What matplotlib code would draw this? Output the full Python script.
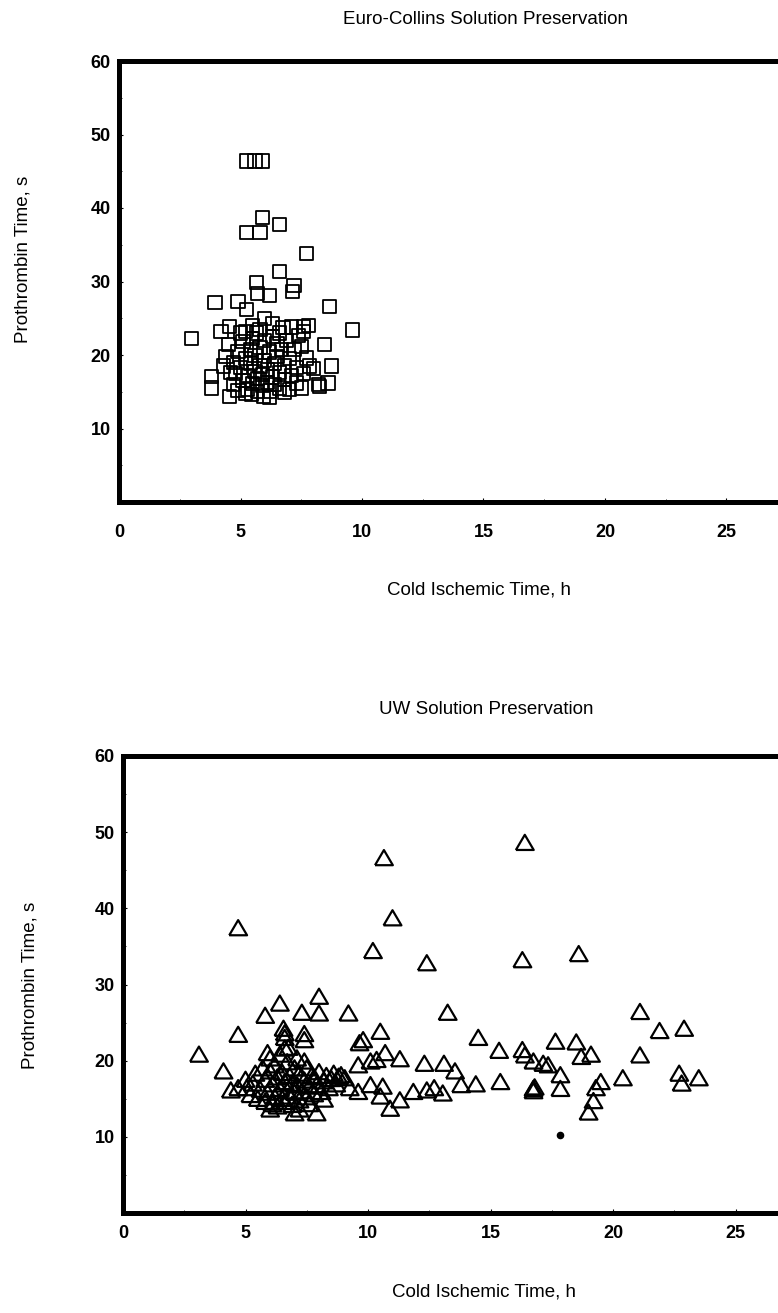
import matplotlib.pyplot as plt
from matplotlib.ticker import MultipleLocator

plt.rcParams['font.family'] = ['Liberation Sans', 'DejaVu Sans']

# Euro-Collins solution: cold ischemic time (h) vs prothrombin time (s)
ec_time = [3.0, 3.8, 3.8, 3.95, 4.2, 4.3, 4.4, 4.5, 4.55, 4.55, 4.9, 5.2, 5.25, 5.25,
           5.25, 5.6, 5.9, 5.8, 5.9, 6.6, 7.7, 6.6, 5.65, 5.7, 6.2, 7.2, 7.15, 8.65,
           9.6, 5.65, 6.0, 6.75, 7.6, 7.6, 7.8, 8.45, 7.5, 8.75, 7.85, 8.0, 8.6, 8.2,
           8.25, 7.5, 6.2, 5.45,
           4.7, 4.8, 4.7, 4.9, 4.9, 5.0, 5.1, 5.1, 5.2, 5.3, 5.3, 5.4, 5.4, 5.5, 5.5,
           5.6, 5.6, 5.7, 5.7, 5.8, 5.8, 5.9, 5.9, 6.0, 6.0, 6.1, 6.1, 6.2, 6.2, 6.3,
           6.3, 6.4, 6.4, 6.5, 6.5, 6.6, 6.6, 6.7, 6.8, 6.8, 6.9, 7.0, 7.0, 7.1, 7.2,
           7.3, 7.3, 7.4, 5.0, 5.8, 6.6, 5.2, 6.8, 7.6, 7.7, 4.6, 5.5, 6.3, 7.1, 5.95]
ec_pt = [22.2, 17.1, 15.5, 27.1, 23.2, 18.5, 19.8, 21.4, 14.4, 23.9, 27.3, 23.2, 26.2, 36.7,
         46.4, 46.4, 46.4, 36.7, 38.7, 37.7, 33.8, 31.4, 29.9, 28.4, 28.1, 29.5, 28.6, 26.6,
         23.4, 23.0, 25.0, 23.7, 23.9, 23.2, 24.0, 21.4, 21.2, 18.5, 18.5, 18.2, 16.2, 16.0,
         15.7, 15.5, 14.2, 14.6,
         16.0, 17.5, 19.0, 20.5, 15.2, 18.3, 16.5, 21.8, 19.5, 15.3, 17.2, 18.8, 20.8, 16.1, 22.3,
         17.8, 19.9, 15.0, 16.8, 18.5, 21.0, 15.8, 17.3, 19.3, 22.0, 16.3, 18.0, 20.4, 15.1, 17.0,
         22.5, 18.8, 16.0, 19.8, 21.5, 15.5, 17.6, 20.7, 16.7, 18.5, 22.0, 15.3, 19.5, 17.2, 20.8,
         16.2, 18.3, 22.6, 23.0, 23.5, 23.0, 14.8, 14.9, 17.5, 19.6, 17.6, 24.0, 24.3, 23.8, 14.4]

# UW solution
uw_time = [3.1, 4.1, 4.4, 4.7, 5.05, 4.7, 4.7, 5.8, 6.4, 6.55, 6.6, 6.6, 6.75, 7.3, 7.4,
           7.4, 7.4, 8.0, 8.0, 9.2, 9.65, 9.8, 10.5, 10.7, 11.3, 12.3, 13.1, 13.55, 10.1,
           10.35, 9.6, 8.9, 9.05, 9.25, 9.6, 10.1, 10.6, 10.5, 10.9, 11.3, 11.85, 12.4,
           12.7, 13.05, 13.8, 14.4, 7.0, 7.9, 10.65, 11.0, 10.2, 12.4, 13.25, 14.5, 15.35,
           16.3, 16.4, 16.75, 17.15, 17.35, 17.65, 18.5, 18.7, 19.1, 21.1, 16.4, 16.3, 18.6,
           21.1, 21.9, 22.9, 15.4, 17.85, 17.85, 16.75, 16.75, 16.8, 19.5, 19.3, 19.2, 19.0,
           20.4, 22.7, 22.8, 23.5,
           5.2, 5.3, 5.4, 5.5, 5.6, 5.7, 5.8, 5.8, 5.9, 6.0, 6.0, 6.1, 6.1, 6.2, 6.2, 6.3,
           6.3, 6.4, 6.4, 6.5, 6.5, 6.6, 6.6, 6.7, 6.7, 6.8, 6.8, 6.9, 6.9, 7.0, 7.0, 7.1,
           7.1, 7.2, 7.2, 7.3, 7.4, 7.5, 7.5, 7.6, 7.7, 7.8, 7.8, 7.9, 8.0, 8.1, 8.2, 8.3,
           8.4, 8.5, 8.6, 8.7, 8.8, 5.0, 5.9, 6.6, 7.6, 8.2, 6.0, 7.2]
uw_pt = [20.8, 18.6, 16.1, 16.4, 16.4, 23.4, 37.4, 25.9, 27.5, 24.2, 23.6, 23.0, 21.7, 26.3, 23.5,
         22.7, 19.9, 28.4, 26.2, 26.2, 22.3, 22.7, 23.8, 21.0, 20.2, 19.6, 19.6, 18.6, 19.9,
         20.1, 19.4, 18.1, 17.7, 16.4, 15.9, 16.8, 16.6, 15.3, 13.7, 14.8, 15.9, 16.1,
         16.4, 15.7, 16.8, 16.9, 13.1, 13.1, 46.6, 38.7, 34.4, 32.8, 26.3, 23.0, 21.3,
         21.4, 20.7, 19.9, 19.6, 19.4, 22.5, 22.4, 20.5, 20.8, 20.7, 48.6, 33.2, 34.0,
         26.4, 23.9, 24.2, 17.2, 18.1, 16.3, 16.3, 16.0, 16.5, 17.2, 16.4, 14.7, 13.2,
         17.7, 18.3, 17.0, 17.7,
         15.5, 17.0, 18.3, 15.0, 16.2, 19.0, 14.6, 17.5, 15.8, 18.6, 20.3, 14.3, 16.9, 15.2, 19.4, 17.8,
         14.0, 16.3, 20.8, 15.0, 18.4, 17.2, 14.6, 19.8, 16.0, 15.3, 18.0, 14.2, 17.0, 19.0, 15.8, 16.8,
         20.3, 14.8, 18.3, 16.0, 17.4, 15.2, 19.0, 16.6, 18.0, 15.6, 17.8, 16.8, 18.5, 15.9, 17.3, 18.0,
         16.4, 17.6, 18.3, 16.9, 17.9, 17.5, 21.0, 21.6, 14.3, 14.9, 13.6, 13.6]

# single filled point in UW panel
uw_dot_time = [17.85]
uw_dot_pt = [10.2]

y_ticks = [10, 20, 30, 40, 50, 60]
x_ticks = [0, 5, 10, 15, 20, 25]

W, H = 778, 1313
fig = plt.figure(figsize=(W / 100, H / 100), dpi=100)

tri = [(-1.0, -0.8), (1.0, -0.8), (0.0, 0.9), (-1.0, -0.8)]


def style_axes(ax, xmax, xpad):
    ax.set_xlim(0, xmax)
    ax.set_ylim(0, 60)
    for side in ['left', 'bottom', 'top']:
        ax.spines[side].set_linewidth(3.6)
    ax.spines['right'].set_visible(False)
    ax.set_yticks(y_ticks)
    ax.set_xticks(x_ticks)
    ax.yaxis.set_minor_locator(MultipleLocator(5))
    ax.xaxis.set_minor_locator(MultipleLocator(2.5))
    ax.tick_params(which='major', direction='in', length=3, width=0.8)
    ax.tick_params(which='minor', direction='in', length=2, width=0.6)
    ax.tick_params(axis='y', pad=6, labelsize=13)
    ax.tick_params(axis='x', pad=xpad, labelsize=13)
    for lab in ax.get_xticklabels() + ax.get_yticklabels():
        lab.set_fontweight('bold')


# top panel
ax1 = fig.add_axes([119 / W, 1 - 502 / H, 1 - 119 / W, (502 - 61) / H])
ax1.scatter(ec_time, ec_pt, marker='s', s=90, facecolors='none', edgecolors='black',
            linewidths=1.3, clip_on=False)
style_axes(ax1, (W - 119) / 24.3, 16)

# bottom panel
ax2 = fig.add_axes([123 / W, 1 - 1213 / H, 1 - 123 / W, (1213 - 756) / H])
ax2.scatter(uw_time, uw_pt, marker=tri, s=165, facecolors='none', edgecolors='black',
            linewidths=1.6, clip_on=False)
ax2.scatter(uw_dot_time, uw_dot_pt, marker='o', s=20, color='black')
style_axes(ax2, (W - 123) / 24.5, 9)

# titles and axis labels
fig.text(486 / W, 1 - 20 / H, 'Euro-Collins Solution Preservation', ha='center', va='center', fontsize=13.5)
fig.text(479 / W, 1 - 590 / H, 'Cold Ischemic Time, h', ha='center', va='center', fontsize=13.5)
fig.text(23 / W, 1 - 259 / H, 'Prothrombin Time, s', ha='center', va='center', rotation=90, fontsize=13.5)

fig.text(486 / W, 1 - 710 / H, 'UW Solution Preservation', ha='center', va='center', fontsize=13.5)
fig.text(484 / W, 1 - 1292 / H, 'Cold Ischemic Time, h', ha='center', va='center', fontsize=13.5)
fig.text(30 / W, 1 - 985 / H, 'Prothrombin Time, s', ha='center', va='center', rotation=90, fontsize=13.5)

fig.savefig('out.png', dpi=100)
